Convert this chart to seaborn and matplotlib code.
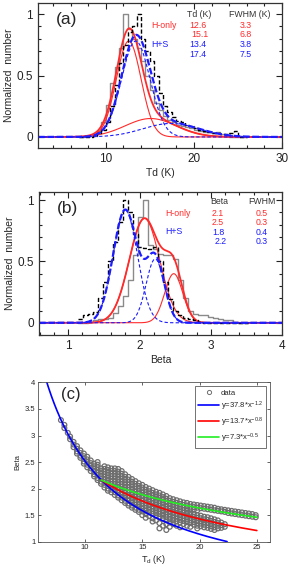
import numpy as np
import pandas as pd
import matplotlib
matplotlib.use("Agg")
import matplotlib.pyplot as plt
from matplotlib.ticker import MultipleLocator, FuncFormatter
from matplotlib.lines import Line2D
import seaborn as sns

# ---- panel (a): dust temperature histograms, 0.5 K bins from 7 K
td_bin_start, td_bin_width = 7.0, 0.5
td_hist_honly = [0, 0.005, 0.01, 0.02, 0.05, 0.12, 0.26, 0.44, 0.57, 0.72,
                 1.0, 0.88, 0.80, 0.72, 0.62, 0.50, 0.38, 0.28, 0.22, 0.17,
                 0.14, 0.12, 0.10, 0.09, 0.08, 0.07, 0.06, 0.05, 0.04, 0.04,
                 0.03, 0.04, 0.02, 0.01, 0, 0, 0, 0]
td_hist_hs = [0, 0, 0, 0.01, 0.03, 0.06, 0.12, 0.25, 0.42, 0.60,
              0.75, 0.85, 0.90, 1.0, 0.80, 0.70, 0.62, 0.50, 0.36, 0.25,
              0.20, 0.16, 0.13, 0.12, 0.10, 0.09, 0.07, 0.06, 0.05, 0.04,
              0.03, 0.03, 0.02, 0.02, 0.03, 0.05, 0, 0]
# gaussian components: (centre, fwhm, peak)
td_fit_honly = [(12.6, 3.3, 0.78), (15.1, 6.8, 0.15)]
td_fit_hs = [(13.4, 3.8, 0.78), (17.4, 7.5, 0.11)]
td_table = [("12.6", "3.3", "r"), ("15.1", "6.8", "r"), ("13.4", "3.8", "b"), ("17.4", "7.5", "b")]

# ---- panel (b): beta histograms, 0.07 bins from 1.14
beta_bin_start, beta_bin_width = 1.14, 0.07
beta_hist_honly = [0, 0, 0.01, 0.02, 0.03, 0.03, 0.04, 0.08, 0.14, 0.22,
                   0.35, 0.55, 0.86, 1.0, 0.63, 0.60, 0.56, 0.55, 0.55, 0.52,
                   0.35, 0.20, 0.10, 0.07, 0.06, 0.06, 0.05, 0.04, 0.03, 0.02,
                   0.02, 0.01, 0, 0]
beta_hist_hs = [0.03, 0.06, 0.07, 0.09, 0.20, 0.33, 0.50, 0.66, 0.82, 1.0,
                0.90, 0.72, 0.62, 0.61, 0.60, 0.62, 0.50, 0.33, 0.19, 0.10,
                0.06, 0.04, 0.03, 0.02, 0.01, 0, 0, 0, 0, 0,
                0, 0, 0, 0]
beta_fit_honly = [(2.07, 0.5, 0.85), (2.48, 0.3, 0.40)]
beta_fit_hs = [(1.8, 0.4, 0.92), (2.22, 0.3, 0.52)]
beta_table = [("2.1", "0.5", "r"), ("2.5", "0.3", "r"), ("1.8", "0.4", "b"), ("2.2", "0.3", "b")]

# ---- panel (c): beta vs Td cloud, columns of (Td, [beta...])
cloud_cols = [
    (7.9, [3.29]), (8.2, [3.2, 3.14]), (8.5, [3.05]), (8.7, [2.98, 2.93]),
    (9.0, [2.88, 2.83, 2.78]), (9.3, [2.8, 2.75, 2.7, 2.66]),
    (9.6, [2.72, 2.67, 2.62, 2.58]), (9.9, [2.66, 2.61, 2.56, 2.51, 2.47]),
    (10.2, [2.6, 2.55, 2.5, 2.45, 2.4]), (10.5, [2.53, 2.48, 2.43, 2.38, 2.33]),
    (10.8, [2.47, 2.42, 2.37, 2.32, 2.27, 2.23]),
    (11.1, [2.5, 2.45, 2.4, 2.35, 2.3, 2.25, 2.2, 2.16]),
    (11.4, [2.38, 2.33, 2.28, 2.23, 2.18, 2.13, 2.09]),
    (11.7, [2.42, 2.37, 2.32, 2.27, 2.22, 2.17, 2.12, 2.07, 2.02]),
    (12.0, [2.4, 2.35, 2.3, 2.25, 2.2, 2.15, 2.1, 2.05, 2.0, 1.96]),
    (12.3, [2.38, 2.33, 2.28, 2.23, 2.18, 2.13, 2.08, 2.03, 1.98, 1.93]),
    (12.6, [2.38, 2.33, 2.28, 2.23, 2.18, 2.13, 2.08, 2.03, 1.98, 1.93, 1.88]),
    (12.9, [2.37, 2.32, 2.27, 2.22, 2.17, 2.12, 2.07, 2.02, 1.97, 1.92, 1.87, 1.83]),
    (13.2, [2.33, 2.28, 2.23, 2.18, 2.13, 2.08, 2.03, 1.98, 1.93, 1.88, 1.83, 1.78]),
    (13.5, [2.27, 2.22, 2.17, 2.12, 2.07, 2.02, 1.97, 1.92, 1.87, 1.82, 1.77, 1.73]),
    (13.8, [2.22, 2.17, 2.12, 2.07, 2.02, 1.97, 1.92, 1.87, 1.82, 1.77, 1.72, 1.68]),
    (14.1, [2.18, 2.13, 2.08, 2.03, 1.98, 1.93, 1.88, 1.83, 1.78, 1.73, 1.68, 1.64]),
    (14.4, [2.14, 2.09, 2.04, 1.99, 1.94, 1.89, 1.84, 1.79, 1.74, 1.69, 1.64, 1.6]),
    (14.7, [2.1, 2.05, 2.0, 1.95, 1.9, 1.85, 1.8, 1.75, 1.7, 1.65, 1.6, 1.56]),
    (15.0, [2.07, 2.02, 1.97, 1.92, 1.87, 1.82, 1.77, 1.72, 1.67, 1.62, 1.57, 1.5]),
    (15.3, [2.03, 1.98, 1.93, 1.88, 1.83, 1.78, 1.73, 1.68, 1.63, 1.58, 1.52, 1.45]),
    (15.6, [2.0, 1.95, 1.9, 1.85, 1.8, 1.75, 1.7, 1.65, 1.6, 1.55, 1.48]),
    (15.9, [1.97, 1.92, 1.87, 1.82, 1.77, 1.72, 1.67, 1.62, 1.57, 1.52, 1.44, 1.38]),
    (16.2, [1.94, 1.89, 1.84, 1.79, 1.74, 1.69, 1.64, 1.59, 1.54, 1.48, 1.4]),
    (16.5, [1.92, 1.87, 1.82, 1.77, 1.72, 1.67, 1.62, 1.57, 1.52, 1.46, 1.35, 1.25]),
    (16.8, [1.89, 1.84, 1.79, 1.74, 1.69, 1.64, 1.59, 1.54, 1.49, 1.43, 1.3]),
    (17.1, [1.86, 1.81, 1.76, 1.71, 1.66, 1.61, 1.56, 1.51, 1.46, 1.4, 1.33, 1.22]),
    (17.4, [1.82, 1.77, 1.72, 1.67, 1.62, 1.57, 1.52, 1.47, 1.42, 1.36, 1.28]),
    (17.7, [1.8, 1.75, 1.7, 1.65, 1.6, 1.55, 1.5, 1.45, 1.4, 1.33]),
    (18.0, [1.78, 1.73, 1.68, 1.63, 1.58, 1.53, 1.48, 1.43, 1.38, 1.3]),
    (18.3, [1.76, 1.71, 1.66, 1.61, 1.56, 1.51, 1.46, 1.41, 1.36, 1.27]),
    (18.6, [1.74, 1.69, 1.64, 1.59, 1.54, 1.49, 1.44, 1.39, 1.33]),
    (18.9, [1.73, 1.68, 1.63, 1.58, 1.52, 1.47, 1.42, 1.37, 1.3]),
    (19.2, [1.71, 1.66, 1.61, 1.55, 1.5, 1.45, 1.4, 1.35, 1.28]),
    (19.5, [1.7, 1.65, 1.6, 1.52, 1.47, 1.42, 1.37, 1.32]),
    (19.8, [1.69, 1.64, 1.59, 1.5, 1.45, 1.4, 1.35, 1.3, 1.25]),
    (20.1, [1.68, 1.63, 1.49, 1.44, 1.39, 1.34, 1.29]),
    (20.4, [1.67, 1.62, 1.47, 1.42, 1.37, 1.32, 1.27]),
    (20.7, [1.66, 1.61, 1.46, 1.41, 1.36, 1.31, 1.26]),
    (21.0, [1.65, 1.6, 1.44, 1.39, 1.34, 1.29, 1.24]),
    (21.3, [1.64, 1.59, 1.42, 1.37, 1.32, 1.27, 1.22]),
    (21.6, [1.62, 1.58, 1.4, 1.35, 1.3, 1.25]),
    (21.9, [1.61, 1.57, 1.36, 1.31, 1.26]),
    (22.2, [1.6, 1.56, 1.33, 1.28]),
    (22.5, [1.59, 1.54]), (22.8, [1.58, 1.53]), (23.1, [1.57, 1.52]),
    (23.4, [1.56, 1.51]), (23.7, [1.55, 1.5]), (24.0, [1.54, 1.49]),
    (24.3, [1.53, 1.48]), (24.6, [1.52, 1.47]), (24.9, [1.5, 1.46]),
]
# power-law curves as drawn: (coef, exponent, td_from, td_to, legend label, colour)
power_laws = [
    (35.0, -1.143, 6.6, 22.4, "y=37.8*x$^{-1.2}$", "#0000ff"),
    (13.1, -0.74, 11.4, 25.0, "y=13.7*x$^{-0.8}$", "#ff0000"),
    (7.3, -0.5, 11.4, 25.0, "y=7.3*x$^{-0.5}$", "#22ee22"),
]

RED = "#ff2b2b"
BLUE = "#1c1cff"
GREY = "#8a8a8a"
CLOUD = "#6e6e6e"

sns.set_style("ticks")
plt.rcParams["font.family"] = ["Liberation Sans", "DejaVu Sans"]
plt.rcParams["mathtext.fontset"] = "custom"
plt.rcParams["mathtext.rm"] = "Liberation Sans"
plt.rcParams["mathtext.it"] = "Liberation Sans:italic"


def gauss(x, comps):
    return [c[2] * np.exp(-4 * np.log(2) * (x - c[0]) ** 2 / c[1] ** 2) for c in comps]


def step_hist(ax, start, width, heights, **kw):
    edges = [start + width * i for i in range(len(heights) + 1)]
    df = pd.DataFrame({"x": [e + width / 2 for e in edges[:-1]], "w": heights})
    sns.histplot(data=df, x="x", weights="w", bins=edges, element="step",
                 fill=False, ax=ax, **kw)


def hist_panel(ax, start, width, h_only, h_s, fit_h, fit_hs, xlim, ylim):
    step_hist(ax, start, width, h_only, color=GREY, linewidth=1.0)
    grid = np.linspace(xlim[0], xlim[1], 800)
    comps = gauss(grid, fit_h)
    for c in comps:
        sns.lineplot(x=grid, y=c, color=RED, linewidth=0.8, ax=ax)
    sns.lineplot(x=grid, y=np.sum(comps, axis=0), color=RED, linewidth=1.3, ax=ax)
    step_hist(ax, start, width, h_s, color="black", linewidth=1.0, linestyle=(0, (3, 1.5)))
    comps = gauss(grid, fit_hs)
    for c in comps:
        sns.lineplot(x=grid, y=c, color=BLUE, linewidth=0.8, linestyle=(0, (3, 2)), ax=ax)
    sns.lineplot(x=grid, y=np.sum(comps, axis=0), color=BLUE, linewidth=1.6,
                 linestyle=(0, (3, 1.2)), ax=ax)
    ax.set_xlim(*xlim)
    ax.set_ylim(*ylim)
    ax.set_yticks([0, 0.5, 1])
    ax.yaxis.set_major_formatter(FuncFormatter(lambda v, p: f"{v:g}"))
    ax.yaxis.set_minor_locator(MultipleLocator(0.1))
    ax.tick_params(which="both", direction="in", top=True, right=True, width=0.8,
                   labelsize=8.5, colors="#222222")
    ax.tick_params(which="major", length=4)
    ax.tick_params(which="minor", length=2)
    for s in ax.spines.values():
        s.set_linewidth(0.9)
        s.set_color("#333333")
    ax.set_ylabel("Normalized  number", fontsize=7.5, labelpad=2)


fig = plt.figure(figsize=(2.88, 5.66), dpi=100)

# (a)
ax1 = fig.add_axes([0.132, 0.7385, 0.847, 0.2562])
hist_panel(ax1, td_bin_start, td_bin_width, td_hist_honly, td_hist_hs,
           td_fit_honly, td_fit_hs, (2.3, 30), (-0.09, 1.09))
ax1.set_xticks([10, 20, 30])
ax1.xaxis.set_minor_locator(MultipleLocator(2))
ax1.set_xlabel("Td (K)", fontsize=7.5, labelpad=2)
ax1.text(0.075, 0.94, "(a)", transform=ax1.transAxes, fontsize=12.5, va="top")
ax1.text(15.2, 0.91, "H-only", color=RED, fontsize=6.3, va="center")
ax1.text(15.2, 0.75, "H+S", color=BLUE, fontsize=6.3, va="center")
ax1.text(20.6, 1.0, "Td (K)", color="#333333", fontsize=6.3, ha="center", va="center")
ax1.text(26.3, 1.0, "FWHM (K)", color="#333333", fontsize=6.3, ha="center", va="center")
for i, (v, w, c) in enumerate(td_table):
    col = RED if c == "r" else BLUE
    y = 0.91 - i * 0.08
    ax1.text(20.4 + (0.3 if i == 1 else 0), y, v, color=col, fontsize=6.3, ha="center", va="center")
    ax1.text(25.9, y, w, color=col, fontsize=6.3, ha="center", va="center")

# (b)
ax2 = fig.add_axes([0.1354, 0.408, 0.844, 0.2527])
hist_panel(ax2, beta_bin_start, beta_bin_width, beta_hist_honly, beta_hist_hs,
           beta_fit_honly, beta_fit_hs, (0.59, 4.0), (-0.1, 1.065))
ax2.set_xticks([1, 2, 3, 4])
ax2.xaxis.set_minor_locator(MultipleLocator(0.2))
ax2.set_xlabel("Beta", fontsize=7.5, labelpad=2)
ax2.text(0.075, 0.94, "(b)", transform=ax2.transAxes, fontsize=12.5, va="top")
ax2.text(2.36, 0.89, "H-only", color=RED, fontsize=6.3, va="center")
ax2.text(2.36, 0.74, "H+S", color=BLUE, fontsize=6.3, va="center")
ax2.text(3.12, 0.99, "Beta", color="#333333", fontsize=6.3, ha="center", va="center")
ax2.text(3.72, 0.99, "FWHM", color="#333333", fontsize=6.3, ha="center", va="center")
for i, (v, w, c) in enumerate(beta_table):
    col = RED if c == "r" else BLUE
    y = 0.89 - i * 0.077
    ax2.text(3.1 + (0.04 if i == 3 else 0), y, v, color=col, fontsize=6.3, ha="center", va="center")
    ax2.text(3.72, y, w, color=col, fontsize=6.3, ha="center", va="center")

# (c)
ax3 = fig.add_axes([0.132, 0.043, 0.8056, 0.2813])
cloud_td = [td for td, betas in cloud_cols for _ in betas]
cloud_beta = [b for _, betas in cloud_cols for b in betas]
sns.scatterplot(x=cloud_td, y=cloud_beta, marker="o", s=12, facecolors="none",
                edgecolor=CLOUD, linewidth=0.9, ax=ax3)
handles = [Line2D([], [], marker="o", ls="none", mfc="none", mec=CLOUD, ms=3, mew=0.7)]
labels = ["data"]
for a, b, x0, x1, lab, col in power_laws:
    xx = np.linspace(x0, x1, 200)
    sns.lineplot(x=xx, y=a * xx ** b, color=col, linewidth=1.2, ax=ax3)
    handles.append(Line2D([], [], color=col, lw=1.2))
    labels.append(lab)
ax3.set_xlim(5.9, 26.15)
ax3.set_ylim(1, 4)
ax3.set_xticks([10, 15, 20, 25])
ax3.set_yticks([1, 1.5, 2, 2.5, 3, 3.5, 4])
ax3.yaxis.set_major_formatter(FuncFormatter(lambda v, p: f"{v:g}"))
ax3.tick_params(direction="in", length=2, width=0.5, labelsize=5.5, top=True, right=True, pad=2)
for s in ax3.spines.values():
    s.set_linewidth(0.6)
    s.set_color("#555555")
ax3.set_xlabel(r"T$_{\rm d}$ (K)", fontsize=6.5, labelpad=1)
ax3.set_ylabel("Beta", fontsize=5.5, labelpad=2)
ax3.text(0.1, 0.97, "(c)", transform=ax3.transAxes, fontsize=12, va="top")
leg = ax3.legend(handles, labels, loc="upper right", fontsize=5.5, frameon=True, fancybox=False,
                 handlelength=2.8, handletextpad=0.2, borderpad=0.4, labelspacing=0.35,
                 borderaxespad=0.5)
leg.get_frame().set_edgecolor("#333333")
leg.get_frame().set_linewidth(0.6)

fig.savefig("out.png", dpi=100)
